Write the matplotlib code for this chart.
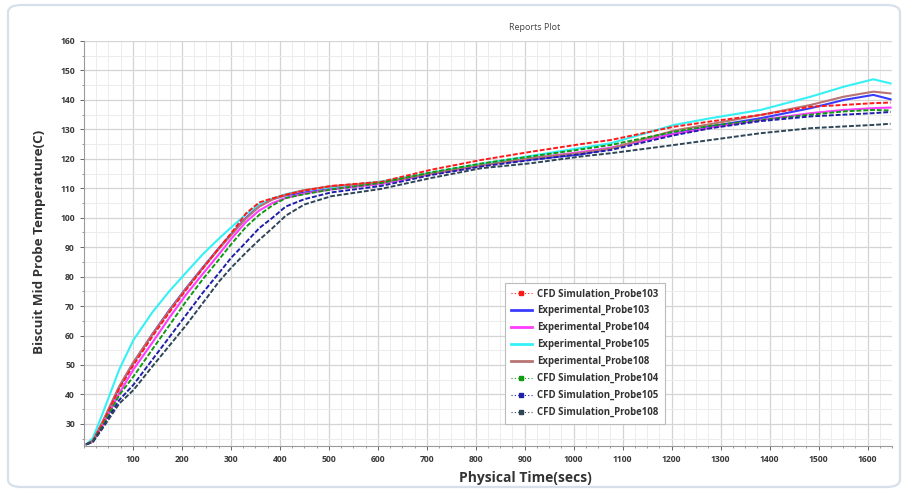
import matplotlib
matplotlib.use("Agg")
import matplotlib.pyplot as plt
from matplotlib.ticker import MultipleLocator
from matplotlib.lines import Line2D
from matplotlib.patches import FancyBboxPatch

plt.rcParams['font.family'] = ['Open Sans', 'DejaVu Sans']

time_s = [5, 18, 38, 72, 101, 140, 174, 208, 242, 276, 301, 331, 358, 385, 412,
          450, 505, 607, 709, 811, 913, 1015, 1076, 1205, 1280, 1382, 1484,
          1552, 1612, 1647]

cfd_103 = [23.1, 24.2, 30.2, 42.0, 50.0, 59.8, 67.8, 75.4, 82.6, 89.8, 94.8, 101.5,
           105.2, 106.6, 107.8, 109.2, 110.8, 112.2, 116.3, 119.6, 122.4, 125.0,
           126.4, 130.9, 132.7, 134.9, 137.7, 138.3, 138.9, 139.1]
exp_103 = [23.1, 24.2, 30.5, 42.5, 50.8, 60.6, 68.6, 76.0, 83.0, 89.8, 94.5, 100.0,
           104.0, 106.3, 107.6, 108.6, 109.8, 111.6, 115.0, 117.9, 119.8, 121.5,
           123.6, 128.6, 131.0, 133.8, 137.2, 140.0, 141.7, 140.2]
exp_104 = [23.1, 24.0, 29.5, 40.4, 48.5, 57.7, 66.0, 73.8, 80.8, 87.7, 92.9, 98.6,
           102.5, 105.0, 106.7, 108.2, 109.6, 111.5, 114.8, 117.6, 120.2, 122.3,
           123.8, 128.4, 130.6, 133.2, 135.5, 136.6, 137.2, 137.4]
exp_105 = [23.1, 25.2, 33.5, 48.5, 58.5, 68.0, 75.0, 81.3, 87.5, 93.0, 96.8, 101.2,
           104.5, 106.5, 108.0, 109.3, 110.4, 112.3, 115.3, 118.3, 121.0, 123.7,
           125.3, 131.5, 133.8, 136.6, 141.1, 144.5, 147.0, 145.6]
exp_108 = [23.1, 24.3, 30.8, 42.8, 51.0, 60.5, 68.4, 75.8, 82.8, 89.5, 94.2, 99.8,
           103.8, 106.2, 107.8, 109.4, 110.7, 112.0, 115.0, 117.8, 120.2, 122.0,
           123.5, 129.6, 131.8, 134.9, 138.3, 141.1, 142.8, 142.2]
cfd_104 = [23.1, 24.0, 29.2, 39.8, 46.1, 55.4, 63.4, 71.5, 79.0, 85.9, 91.1, 96.9,
           101.0, 104.2, 106.7, 108.0, 109.6, 111.8, 115.4, 118.4, 120.8, 123.2,
           124.7, 129.2, 131.2, 133.2, 135.0, 136.1, 136.6, 136.4]
cfd_105 = [23.1, 23.9, 28.8, 38.1, 43.3, 51.9, 59.4, 66.9, 74.4, 81.3, 86.5, 91.7,
           96.5, 100.0, 103.8, 106.3, 108.6, 110.8, 114.5, 117.4, 119.6, 121.6,
           123.0, 128.0, 130.4, 132.8, 134.4, 135.0, 135.5, 135.9]
cfd_108 = [23.1, 23.8, 28.5, 36.9, 41.5, 49.6, 56.5, 63.4, 70.9, 78.4, 83.1, 88.2,
           92.5, 96.5, 100.7, 104.5, 107.3, 109.8, 113.5, 116.8, 118.5, 120.8,
           121.9, 124.7, 126.4, 128.7, 130.4, 131.0, 131.5, 131.9]

series = [
    ("CFD Simulation_Probe103", cfd_103, "#ff1a1a", "cfd"),
    ("Experimental_Probe103", exp_103, "#3b3bff", "exp"),
    ("Experimental_Probe104", exp_104, "#ff3cff", "exp"),
    ("Experimental_Probe105", exp_105, "#35f0f5", "exp"),
    ("Experimental_Probe108", exp_108, "#b87474", "exp"),
    ("CFD Simulation_Probe104", cfd_104, "#119911", "cfd"),
    ("CFD Simulation_Probe105", cfd_105, "#1f1fa8", "cfd"),
    ("CFD Simulation_Probe108", cfd_108, "#2e4657", "cfd"),
]

W, H = 909, 492
fig = plt.figure(figsize=(W / 100, H / 100), dpi=100)
fig.patch.set_facecolor("white")

frame = FancyBboxPatch((8 / W, 5 / H), (892 / W), (482 / H),
                       boxstyle="round,pad=0,rounding_size=0.015",
                       transform=fig.transFigure, facecolor="none",
                       edgecolor="#d5e0ea", linewidth=1.6)
fig.patches.append(frame)

ax = fig.add_axes([84 / W, 1 - 446 / H, (892 - 84) / W, (446 - 41) / H])

handles = []
for label, vals, color, kind in series:
    if kind == "exp":
        ax.plot(time_s, vals, color=color, lw=1.5, zorder=3)
        handles.append(Line2D([], [], color=color, lw=2.0, label=label))
    else:
        ax.plot(time_s, vals, color=color, lw=1.4, ls=(0, (2.5, 1.0)), zorder=4)
        handles.append(Line2D([], [], color=color, lw=0.8, ls=(0, (1, 2)),
                              marker="s", ms=2.5, markevery=[1], label=label))

ax.set_xlim(0, 1650)
ax.set_ylim(22.5, 160)
ax.xaxis.set_minor_locator(MultipleLocator(25))
ax.yaxis.set_minor_locator(MultipleLocator(5))
ax.set_xticks(range(100, 1700, 100))
ax.set_yticks(range(30, 170, 10))
ax.grid(which="major", color="#d4d4d4", lw=0.9)
ax.grid(which="minor", color="#ececec", lw=0.7)
ax.set_axisbelow(True)

for s in ["top", "right"]:
    ax.spines[s].set_visible(False)
for s in ["left", "bottom"]:
    ax.spines[s].set_color("#9a9a9a")
    ax.spines[s].set_linewidth(0.8)

ax.tick_params(axis="both", which="major", labelsize=6.2, colors="#666666",
               length=3, width=0.7, labelcolor="#3a3a3a")
ax.tick_params(axis="both", which="minor", length=1.5, width=0.6, colors="#888888")
for lbl in ax.get_xticklabels() + ax.get_yticklabels():
    lbl.set_fontweight("bold")

fig.text(535 / W, 1 - 27 / H, "Reports Plot", fontsize=6.5, color="#444444",
         ha="center", va="center")
fig.text(525 / W, 1 - 478 / H, "Physical Time(secs)", fontsize=10,
         color="#333333", ha="center", va="center", fontweight="bold")
fig.text(40 / W, 1 - 242 / H, "Biscuit Mid Probe Temperature(C)", fontsize=9.6,
         color="#333333", ha="center", va="center", rotation=90,
         fontweight="bold")

leg = ax.legend(handles=handles, loc="upper left",
                bbox_to_anchor=((500 - 84) / 808, (446 - 278) / 405),
                fontsize=6.9, frameon=True, fancybox=False,
                edgecolor="#bbbbbb", framealpha=1, handlelength=2.2,
                labelspacing=0.62, borderpad=0.6, handletextpad=0.6)
leg.get_frame().set_linewidth(0.8)
for t in leg.get_texts():
    t.set_color("#333333")
    t.set_fontweight("bold")

fig.savefig("out.png", dpi=100)
